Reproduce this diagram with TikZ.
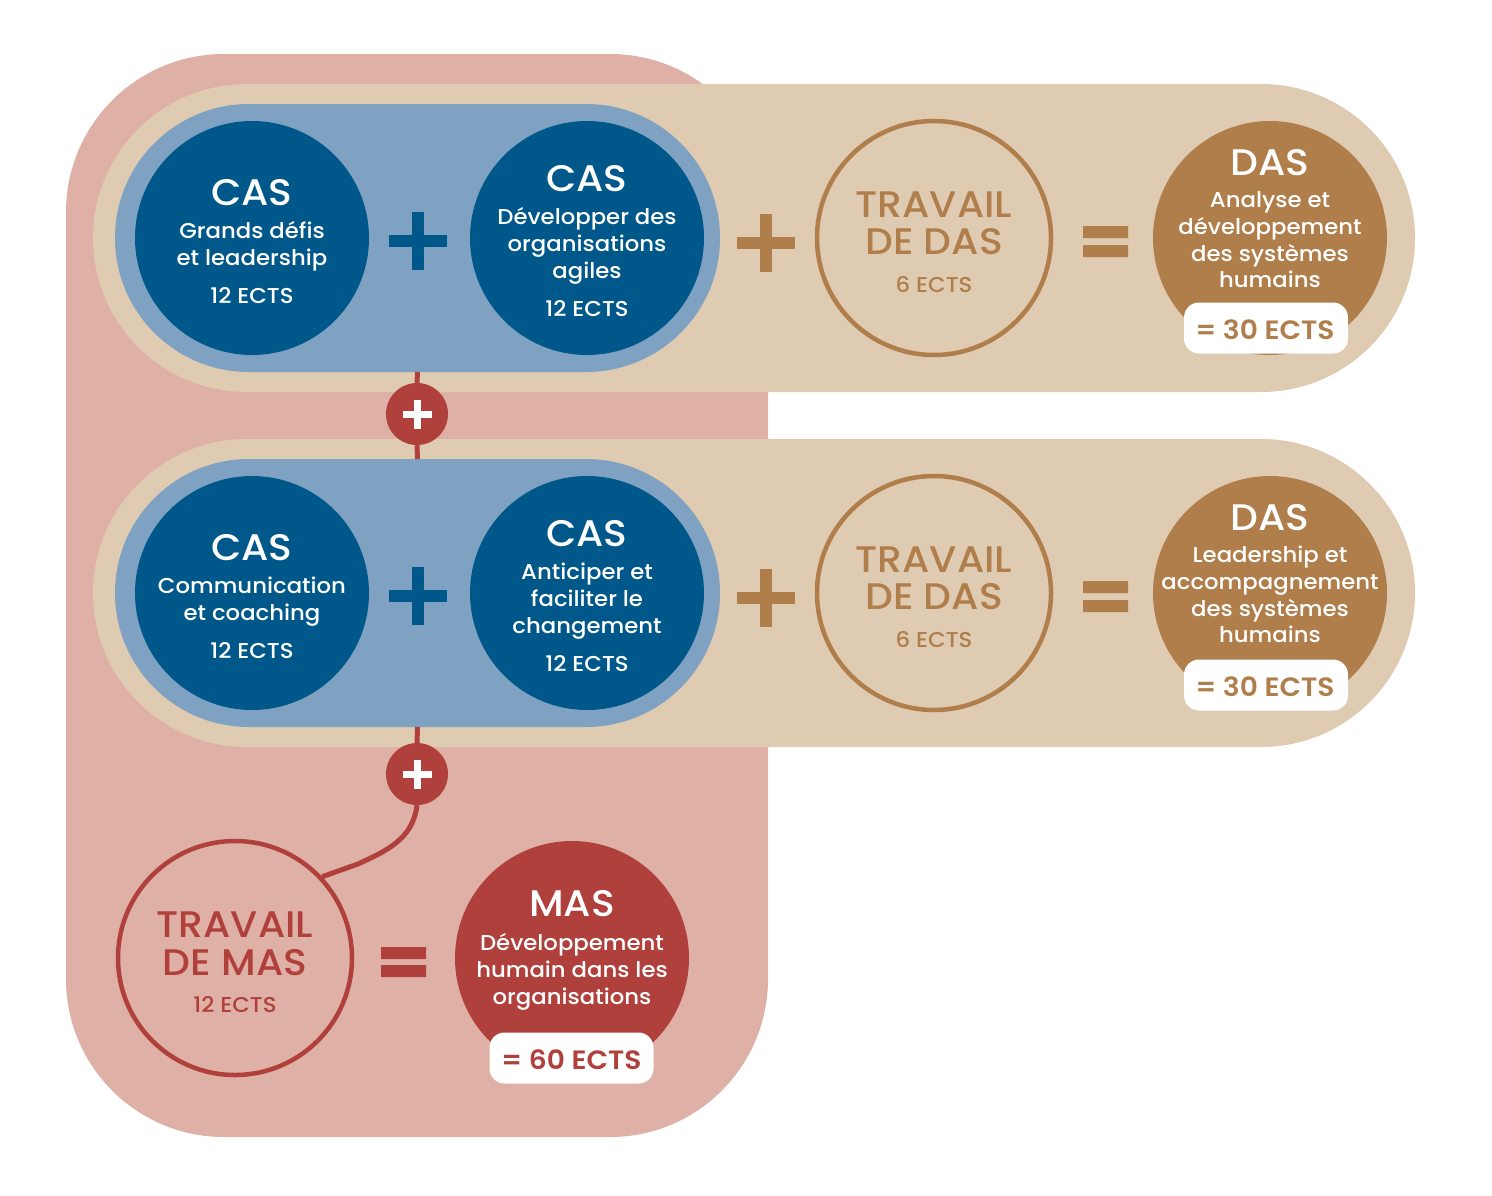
\documentclass[tikz,border=0pt]{standalone}
\usepackage{fontspec}
\setmainfont{Poppins}[UprightFont=* Medium, BoldFont=* SemiBold, FakeStretch=1.06]
\definecolor{pinkbg}{HTML}{DFB0A5}
\definecolor{beige}{HTML}{DFCAB2}
\definecolor{lblue}{HTML}{7FA2C3}
\definecolor{dblue}{HTML}{00588A}
\definecolor{tanc}{HTML}{B07E4B}
\definecolor{redc}{HTML}{B0403B}
\newcommand\bodyf{\fontsize{21.5}{26}\selectfont}
\newcommand\titlef{\fontsize{37}{40}\selectfont}
\newcommand\ectsf{\bfseries\fontsize{26.5}{28}\selectfont}
\begin{document}
\begin{tikzpicture}[x=1pt,y=-1pt,
  panel/.style={inner sep=0pt, outer sep=0pt, fill=#1},
  disc/.style={circle, minimum size=234pt, inner sep=0pt, fill=#1},
  ring/.style={circle, minimum size=234pt, inner sep=0pt, draw=#1, line width=4.5pt},
  tl/.style={anchor=base, inner sep=0pt, font=\bodyf, text=#1},
  tt/.style={anchor=base, inner sep=0pt, font=\titlef, text=#1},
  pillbox/.style={fill=white, rounded corners=15pt, minimum width=164pt, minimum height=51pt, inner sep=0pt},
  ects/.style={anchor=base, inner sep=0pt, font=\ectsf, text=#1},
  redline/.style={draw=redc, line width=5pt},
  redplus/.style={circle, fill=redc, minimum size=62pt, inner sep=0pt,
    path picture={\draw[white, line width=7pt] (path picture bounding box.center) ++(-14.5,0) -- ++(29,0)
      (path picture bounding box.center) ++(0,-14.5) -- ++(0,29);}},
  plusbar/.style={line width=12pt, draw=#1}
]
\useasboundingbox (0,0) rectangle (1492,1195);

% background panels
\node[panel=pinkbg, rounded corners=158pt, minimum width=702pt, minimum height=1083pt] (masbg) at (417,595.5) {};
\node[panel=beige, rounded corners=154pt, minimum width=1322pt, minimum height=308pt] (row1) at (754,238) {};
\node[panel=beige, rounded corners=154pt, minimum width=1322pt, minimum height=308pt] (row2) at (754,593) {};
\node[panel=lblue, rounded corners=134pt, minimum width=605pt, minimum height=268pt] (blue1) at (417.5,238) {};
\node[panel=lblue, rounded corners=134pt, minimum width=605pt, minimum height=268pt] (blue2) at (417.5,593) {};

% red connectors
\node[redplus] (pa) at (417,414) {};
\node[redplus] (pb) at (417,774) {};
\draw[redline] (blue1.south) -- (pa.north);
\draw[redline] (pa.south) -- (blue2.north);
\draw[redline] (blue2.south) -- (pb.north);

% circles row 1
\node[disc=dblue] (cas1) at (252,238) {};
\node[disc=dblue] (cas2) at (587,238) {};
\node[ring=tanc] (tdas1) at (934,238) {};
\node[disc=tanc] (das1) at (1270,238) {};
% circles row 2
\node[disc=dblue] (cas3) at (252,593) {};
\node[disc=dblue] (cas4) at (587,593) {};
\node[ring=tanc] (tdas2) at (934,593) {};
\node[disc=tanc] (das2) at (1270,593) {};
% MAS row
\node[ring=redc] (tmas) at (235,958) {};
\node[disc=redc] (mas) at (572,958) {};
\coordinate (bend) at (358,864);
\draw[redline] (pb.south) .. controls +(-4,34) and +(28,-13) .. (bend) -- (tmas.43);

% operators
\draw[plusbar=dblue] (418,241) ++(-29,0) -- ++(58,0) (418,241) ++(0,-29) -- ++(0,58);
\draw[plusbar=dblue] (418,596) ++(-29,0) -- ++(58,0) (418,596) ++(0,-29) -- ++(0,58);
\draw[plusbar=tanc] (766,243) ++(-29,0) -- ++(58,0) (766,243) ++(0,-29) -- ++(0,58);
\draw[plusbar=tanc] (766,598) ++(-29,0) -- ++(58,0) (766,598) ++(0,-29) -- ++(0,58);
\fill[tanc] (1083,226) rectangle (1128,238) (1083,245) rectangle (1128,257);
\fill[tanc] (1083,581) rectangle (1128,593) (1083,600) rectangle (1128,612);
\fill[redc] (381,947) rectangle (426,959) (381,965) rectangle (426,977);

% ECTS boxes
\node[pillbox] (b1) at (1266,328) {};
\node[pillbox] (b2) at (1266,685) {};
\node[pillbox] (b3) at (571.5,1058) {};
\node[ects=tanc] (e1) at (1265,339) {= 30 ECTS};
\node[ects=tanc] (e2) at (1265,696) {= 30 ECTS};
\node[ects=redc] (e3) at (571.5,1069) {= 60 ECTS};

% texts row 1
\node[tt=white] (t1a) at (252,205) {CAS};
\node[tl=white] (t1b) at (252,238) {Grands défis};
\node[tl=white] (t1c) at (252,265) {et leadership};
\node[tl=white] (t1d) at (252,303) {12 ECTS};

\node[tt=white] (t2a) at (587,191) {CAS};
\node[tl=white] (t2b) at (587,224) {Développer des};
\node[tl=white] (t2c) at (587,251) {organisations};
\node[tl=white] (t2d) at (587,278) {agiles};
\node[tl=white] (t2e) at (587,316) {12 ECTS};

\node[tt=tanc] (t3a) at (934,217) {TRAVAIL};
\node[tt=tanc] (t3b) at (934,254) {DE DAS};
\node[tl=tanc] (t3c) at (934,292) {6 ECTS};

\node[tt=white] (t4a) at (1270,175) {DAS};
\node[tl=white] (t4b) at (1270,207) {Analyse et};
\node[tl=white] (t4c) at (1270,234) {développement};
\node[tl=white] (t4d) at (1270,261) {des systèmes};
\node[tl=white] (t4e) at (1270,287) {humains};

% texts row 2
\node[tt=white] (t5a) at (252,560) {CAS};
\node[tl=white] (t5b) at (252,593) {Communication};
\node[tl=white] (t5c) at (252,620) {et coaching};
\node[tl=white] (t5d) at (252,658) {12 ECTS};

\node[tt=white] (t6a) at (587,546) {CAS};
\node[tl=white] (t6b) at (587,579) {Anticiper et};
\node[tl=white] (t6c) at (587,606) {faciliter le};
\node[tl=white] (t6d) at (587,633) {changement};
\node[tl=white] (t6e) at (587,671) {12 ECTS};

\node[tt=tanc] (t7a) at (934,572) {TRAVAIL};
\node[tt=tanc] (t7b) at (934,609) {DE DAS};
\node[tl=tanc] (t7c) at (934,647) {6 ECTS};

\node[tt=white] (t8a) at (1270,530) {DAS};
\node[tl=white] (t8b) at (1270,562) {Leadership et};
\node[tl=white] (t8c) at (1270,589) {accompagnement};
\node[tl=white] (t8d) at (1270,616) {des systèmes};
\node[tl=white] (t8e) at (1270,642) {humains};

% MAS row texts
\node[tt=redc] (t9a) at (235,937) {TRAVAIL};
\node[tt=redc] (t9b) at (235,975) {DE MAS};
\node[tl=redc] (t9c) at (235,1012) {12 ECTS};

\node[tt=white] (t10a) at (572,916) {MAS};
\node[tl=white] (t10b) at (572,950) {Développement};
\node[tl=white] (t10c) at (572,977) {humain dans les};
\node[tl=white] (t10d) at (572,1004) {organisations};
\end{tikzpicture}
\end{document}
